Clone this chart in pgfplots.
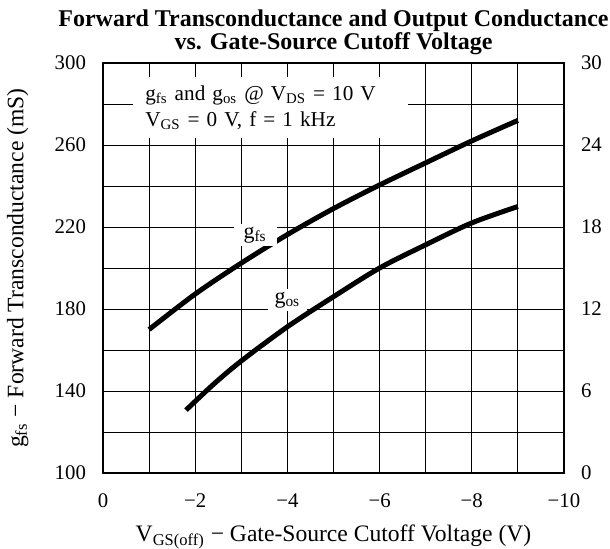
\documentclass[border=0pt]{standalone}
\usepackage{fontspec}
\setmainfont{Liberation Serif}
\usepackage{pgfplots}
\pgfplotsset{compat=1.18}
\begin{document}
\begin{tikzpicture}
\pgfplotsset{
  common/.style={
    scale only axis, width=230.5pt, height=205pt,
    xmin=-10, xmax=0, x dir=reverse,
    tick label style={font=\fontsize{10.4}{12}\selectfont},
    /pgf/number format/assume math mode=true,
    major tick length=0pt, minor tick length=0pt,
  }
}
\begin{axis}[common, name=ax,
  axis line style={line width=0.6pt},
  ymin=100, ymax=300,
  xtick={0,-2,-4,-6,-8,-10},
  xticklabels={0,−2,−4,−6,−8,−10},
  minor xtick={-1,-3,-5,-7,-9},
  ytick={100,140,...,300},
  minor ytick={120,160,...,280},
  grid=both,
  grid style={line width=0.5pt, black},
  minor grid style={line width=0.5pt, black},
  yticklabel style={xshift=-5pt},
  xticklabel style={yshift=-7pt},
  title={Forward Transconductance and Output Conductance\\vs. Gate-Source Cutoff Voltage},
  every axis title shift=0pt,
  title style={font=\bfseries\fontsize{12}{11.5}\selectfont, align=center, at={(axis description cs:0.5,1)}, anchor=south, inner sep=0pt, yshift=3.9pt},
  xlabel={V\textsubscript{GS(off)} − Gate-Source Cutoff Voltage (V)},
  xlabel style={at={(axis description cs:0.5,-0.168)}, anchor=base, font=\fontsize{11.8}{13}\selectfont},
  ylabel={g\textsubscript{fs} − Forward Transconductance (mS)},
  ylabel style={at={(axis description cs:-0.185,0.5)}, anchor=center, font=\fontsize{11.8}{13}\selectfont},
]
\addplot[black, line width=2.5pt, smooth] coordinates {
(-1,170) (-2,187.3) (-3,202.4) (-4,216.3) (-5,229) (-6,240.5) (-7,251.3) (-8,262) (-9,272)};
\node[fill=white, anchor=north west, inner xsep=6pt, inner ysep=0pt, minimum height=30.5pt, text width=125.5pt, align=left, font=\fontsize{10.6}{13}\selectfont] at (axis cs:-0.65,293.2) {g\textsubscript{fs} and g\textsubscript{os} @ V\textsubscript{DS} = 10 V\\V\textsubscript{GS} = 0 V, f = 1 kHz};
\node[fill=white, inner xsep=5pt, inner ysep=1.5pt, font=\fontsize{11}{12}\selectfont] at (axis cs:-3.3,216) {g\textsubscript{fs}};
\node[fill=white, inner xsep=3.5pt, inner ysep=1.5pt, font=\fontsize{11}{12}\selectfont] at (axis cs:-4.0,184.4) {g\textsubscript{os}};
\end{axis}
\begin{axis}[common,
  axis y line*=right, axis x line=none,
  ymin=0, ymax=30, ytick={0,6,...,30},
  yticklabel style={xshift=5pt},
]
\addplot[black, line width=2.5pt, smooth] coordinates {
(-1.8,4.6) (-2.4,6.5) (-3,8.2) (-4,10.7) (-5,12.9) (-6,15) (-7,16.7) (-8,18.3) (-9,19.5)};
\end{axis}
\pgfresetboundingbox
\path ([xshift=-51.5pt,yshift=-37.5pt]ax.south west) rectangle ([xshift=23pt,yshift=31.5pt]ax.north east);
\end{tikzpicture}
\end{document}
